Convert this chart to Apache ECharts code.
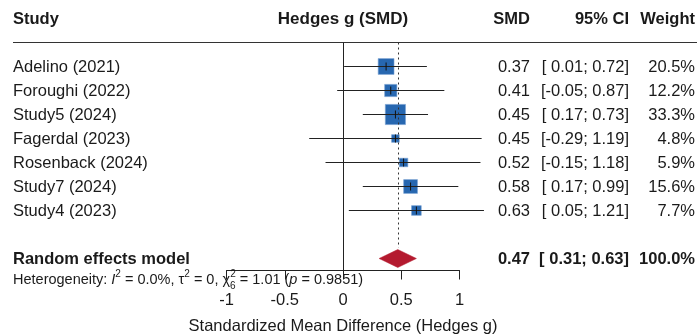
<!DOCTYPE html>
<html>
<head>
<meta charset="utf-8">
<script src="https://cdn.jsdelivr.net/npm/echarts@6/dist/echarts.min.js"></script>
<style>
	html, body { margin: 0; padding: 0; background: #fff; }
	#forest { width: 697px; height: 335px; }
</style>
</head>
<body>
<div id="forest"></div>
<script>
	// study data
	var studies = ['Adelino (2021)', 'Foroughi (2022)', 'Study5 (2024)', 'Fagerdal (2023)', 'Rosenback (2024)', 'Study7 (2024)', 'Study4 (2023)'];
	var smd = [0.37, 0.41, 0.45, 0.45, 0.52, 0.58, 0.63];
	var ciLow = [0.01, -0.05, 0.17, -0.29, -0.15, 0.17, 0.05];
	var ciHigh = [0.72, 0.87, 0.73, 1.19, 1.18, 0.99, 1.21];
	var weights = [20.5, 12.2, 33.3, 4.8, 5.9, 15.6, 7.7];

	// pooled estimate
	var poolLabel = 'Random effects model';
	var poolEst = 0.47;
	var poolLow = 0.31;
	var poolHigh = 0.63;
	var poolWeight = 100.0;

	var xTicks = [-1, -0.5, 0, 0.5, 1];
	var headers = ['Study', 'Hedges g (SMD)', 'SMD', '95% CI', 'Weight'];

	var FONT = '"Liberation Sans", Arial, sans-serif';
	var TXT = '#1a1a1a';

	function fmt(v) {
		return v.toFixed(2);
	}
	function fmtCI(lo, hi) {
		var a = lo < 0 ? fmt(lo) : ' ' + fmt(lo);
		return '[' + a + '; ' + fmt(hi) + ']';
	}

	// rows: header at -1, studies 1..7, pooled at 9, heterogeneity at 9.9
	var studyData = studies.map(function(s, i) {
		return [i + 1, ciLow[i], ciHigh[i], smd[i], weights[i]];
	});

	var tableRows = [];
	tableRows.push({ row: -1, bold: true, cells: headers });
	studies.forEach(function(s, i) {
		tableRows.push({ row: i + 1, bold: false, cells: [s, '', fmt(smd[i]), fmtCI(ciLow[i], ciHigh[i]), weights[i].toFixed(1) + '%'] });
	});
	tableRows.push({ row: 9, bold: true, cells: [poolLabel, '', fmt(poolEst), fmtCI(poolLow, poolHigh), poolWeight.toFixed(1) + '%'] });
	tableRows.push({ row: 9.9, het: true });

	var colX = [13, 343, 530, 629, 695];
	var colAlign = ['left', 'center', 'right', 'right', 'right'];

	var chart = echarts.init(document.getElementById('forest'));

	var option = {
		animation: false,
		grid: {
			left: 226.5,
			width: 233,
			top: 42.5,
			height: 228,
			containLabel: false,
			outerBoundsMode: 'none'
		},
		xAxis: {
			type: 'value',
			min: -1,
			max: 1,
			interval: 0.5,
			splitLine: { show: false },
			axisLine: { show: true, onZero: false, lineStyle: { color: '#222', width: 1 } },
			axisTick: { show: true, length: 9, lineStyle: { color: '#222' } },
			axisLabel: {
				color: TXT,
				fontSize: 16.5,
				fontFamily: FONT,
				margin: 21,
				formatter: function(v) {
					return xTicks.indexOf(v) > -1 ? String(v) : '';
				}
			},
			name: 'Standardized Mean Difference (Hedges g)',
			nameLocation: 'middle',
			nameGap: 47,
			nameTextStyle: { color: TXT, fontSize: 16.5, fontFamily: FONT }
		},
		yAxis: {
			type: 'value',
			min: 0,
			max: 9.5,
			inverse: true,
			show: false
		},
		series: [{
				// table text
				type: 'custom',
				clip: false,
				silent: true,
				z: 1,
				data: tableRows.map(function(r) { return [0, r.row]; }),
				renderItem: function(params, api) {
					var r = tableRows[params.dataIndex];
					var y = api.coord([0, r.row])[1];
					var kids = [];
					if (r.het) {
						kids.push({
							type: 'text',
							x: 13,
							y: y,
							style: {
								text: '{t|Heterogeneity: }{it|I}{sp|2}{t| = 0.0%, τ}{sp|2}{t| = 0, χ}{sb|6}{sp|2}{t| = 1.01 (}{it|p}{t| = 0.9851)}',
								verticalAlign: 'middle',
								align: 'left',
								fill: TXT,
								rich: {
									t: { fontSize: 14.5, fontFamily: FONT, lineHeight: 22, verticalAlign: 'middle' },
									it: { fontSize: 14.5, fontFamily: FONT, fontStyle: 'italic', lineHeight: 22, verticalAlign: 'middle' },
									sp: { fontSize: 10, fontFamily: FONT, lineHeight: 10, verticalAlign: 'top' },
									sb: { fontSize: 10, fontFamily: FONT, lineHeight: 10, verticalAlign: 'bottom', width: 0.1 }
								}
							}
						});
						return { type: 'group', children: kids };
					}
					r.cells.forEach(function(c, j) {
						if (!c) return;
						var isSmlab = r.row < 0 && j === 1;
						kids.push({
							type: 'text',
							x: colX[j],
							y: y + 0.5,
							style: {
								text: c,
								align: colAlign[j],
								verticalAlign: 'middle',
								fill: TXT,
								fontFamily: FONT,
								fontWeight: r.bold ? 'bold' : 'normal',
								fontSize: isSmlab ? 17 : 16.5
							}
						});
					});
					if (r.row < 0) {
						var ly = api.coord([0, 0])[1];
						kids.push({
							type: 'line',
							shape: { x1: 13, y1: ly, x2: 697, y2: ly },
							style: { stroke: '#333', lineWidth: 1 }
						});
					}
					return { type: 'group', children: kids };
				}
			},
			{
				// study squares and CIs
				type: 'custom',
				clip: false,
				z: 3,
				data: studyData,
				encode: { x: [1, 2, 3], y: 0 },
				renderItem: function(params, api) {
					var row = api.value(0);
					var pLo = api.coord([api.value(1), row]);
					var pHi = api.coord([api.value(2), row]);
					var pE = api.coord([api.value(3), row]);
					var s = Math.sqrt(api.value(4)) * 3.5;
					return {
						type: 'group',
						children: [{
								type: 'rect',
								shape: { x: pE[0] - s / 2, y: pE[1] - s / 2, width: s, height: s },
								style: { fill: '#2767b0', stroke: '#7aa3d4', lineWidth: 0.6 }
							},
							{
								type: 'line',
								shape: { x1: pLo[0], y1: pLo[1], x2: pHi[0], y2: pHi[1] },
								style: { stroke: '#222', lineWidth: 1 }
							},
							{
								type: 'line',
								shape: { x1: pE[0], y1: pE[1] - 4, x2: pE[0], y2: pE[1] + 4 },
								style: { stroke: '#111', lineWidth: 1 }
							}
						]
					};
				},
				markLine: {
					silent: true,
					symbol: 'none',
					label: { show: false },
					data: [
						[{ coord: [0, 0], lineStyle: { color: '#222', width: 1, type: 'solid' } }, { coord: [0, 9.5] }],
						[{ coord: [poolEst, 0], lineStyle: { color: '#333', width: 1, type: [2, 3] } }, { coord: [poolEst, 8.55] }]
					]
				}
			},
			{
				// pooled diamond
				type: 'custom',
				clip: false,
				z: 4,
				data: [[9, poolLow, poolHigh, poolEst]],
				encode: { x: [1, 2, 3], y: 0 },
				renderItem: function(params, api) {
					var row = api.value(0);
					var pLo = api.coord([api.value(1), row]);
					var pHi = api.coord([api.value(2), row]);
					var pE = api.coord([api.value(3), row]);
					var h = 9;
					return {
						type: 'polygon',
						shape: { points: [[pLo[0], pLo[1]], [pE[0], pE[1] - h], [pHi[0], pHi[1]], [pE[0], pE[1] + h]] },
						style: { fill: '#b41a2f', stroke: '#b41a2f', lineWidth: 0.5 }
					};
				}
			}
		]
	};

	chart.setOption(option);
</script>
</body>
</html>
